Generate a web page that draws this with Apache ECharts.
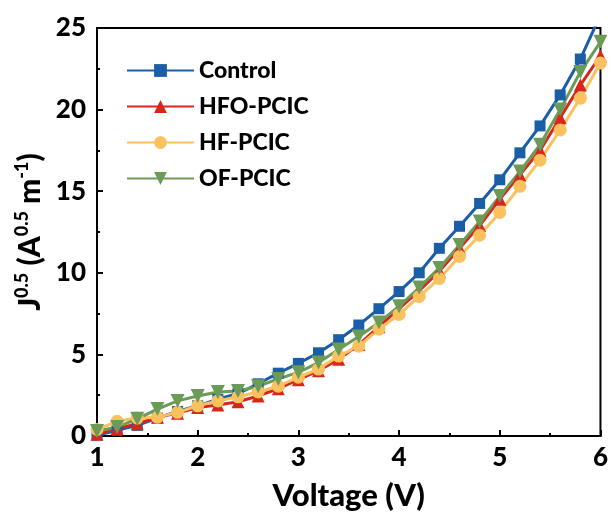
<!DOCTYPE html>
<html>
<head>
<meta charset="utf-8">
<script src="https://cdn.jsdelivr.net/npm/echarts@6/dist/echarts.min.js"></script>
<style>
  html, body { margin: 0; padding: 0; background: #fff; }
  #chart { width: 611px; height: 516px; }
</style>
</head>
<body>
<div id="chart"></div>
<script>
// voltage steps (V)
const voltage = [1.0, 1.2, 1.4, 1.6, 1.8, 2.0, 2.2, 2.4, 2.6, 2.8, 3.0, 3.2, 3.4,
                 3.6, 3.8, 4.0, 4.2, 4.4, 4.6, 4.8, 5.0, 5.2, 5.4, 5.6, 5.8, 6.0];

// J^0.5 values
const control = [0.05, 0.35, 0.65, 1.1, 1.5, 1.85, 2.25, 2.6, 3.2, 3.85, 4.45, 5.1, 5.9,
                 6.8, 7.8, 8.85, 10.0, 11.5, 12.85, 14.25, 15.7, 17.35, 19.0, 20.9, 23.1, 25.8];
const hfo = [0.1, 0.45, 0.75, 1.15, 1.4, 1.75, 1.9, 2.1, 2.45, 2.9, 3.45, 4.0, 4.7,
             5.6, 6.7, 7.8, 8.9, 10.1, 11.5, 12.9, 14.5, 16.0, 17.5, 19.5, 21.5, 23.3];
const hf = [0.4, 0.9, 1.1, 1.15, 1.45, 1.85, 2.15, 2.4, 2.7, 3.05, 3.6, 4.1, 4.9,
            5.5, 6.55, 7.45, 8.55, 9.65, 11.0, 12.3, 13.7, 15.3, 16.9, 18.75, 20.7, 22.85];
const of = [0.3, 0.55, 1.05, 1.65, 2.15, 2.45, 2.7, 2.75, 3.05, 3.5, 3.9, 4.5, 5.3,
            6.1, 6.95, 7.95, 9.1, 10.3, 11.7, 13.15, 14.7, 16.2, 17.85, 20.0, 22.3, 24.15];

const seriesNames = ['Control', 'HFO-PCIC', 'HF-PCIC', 'OF-PCIC'];
const seriesData = [control, hfo, hf, of];
const colors = ['#1a5ea8', '#d9261c', '#fbc15e', '#6b9b57'];
const symbols = ['rect', 'triangle', 'circle', 'path://M0,0 L10,0 L5,9 Z'];
const sizes = [11, 13, 13, 14];

const FONT = 'Lato';
const W = 900;

const chart = echarts.init(document.getElementById('chart'));

const series = seriesNames.map((name, i) => ({
    name: name,
    type: 'line',
    data: voltage.map((v, k) => [v, seriesData[i][k]]),
    symbol: symbols[i],
    symbolSize: sizes[i],
    lineStyle: { width: 3, color: colors[i] },
    itemStyle: { color: colors[i] },
    clip: true
}));

const option = {
    animation: false,
    backgroundColor: '#fff',
    grid: {
        left: 97, right: 7, top: 28, bottom: 78,
        show: true, borderColor: '#000', borderWidth: 2
    },
    legend: {
        orient: 'vertical',
        left: 126,
        top: 59,
        padding: 0,
        itemWidth: 67,
        itemHeight: 16,
        itemGap: 13,
        textStyle: { fontFamily: FONT, fontWeight: W, fontSize: 23, color: '#000' },
        data: seriesNames
    },
    xAxis: {
        type: 'value',
        min: 1, max: 6, interval: 1,
        name: 'Voltage (V)',
        nameLocation: 'middle',
        nameGap: 44,
        nameTextStyle: { fontFamily: FONT, fontWeight: W, fontSize: 31, color: '#000' },
        axisLine: { lineStyle: { color: '#000', width: 2 } },
        axisTick: { inside: true, length: 6, lineStyle: { width: 2 } },
        minorTick: { show: true, splitNumber: 2, length: 3, lineStyle: { color: '#000', width: 2 } },
        splitLine: { show: false },
        axisLabel: { fontFamily: FONT, fontWeight: W, fontSize: 26, color: '#000', margin: 9 }
    },
    yAxis: {
        type: 'value',
        min: 0, max: 25, interval: 5,
        name: '{b|J}{s|0.5}{b| (A}{s|0.5}{b| m}{s|-1}{b|)}',
        nameLocation: 'middle',
        nameGap: 48,
        nameRotate: 90,
        nameTextStyle: {
            rich: {
                b: { fontFamily: FONT, fontWeight: W, fontSize: 30, color: '#000', lineHeight: 34 },
                s: { fontFamily: FONT, fontWeight: W, fontSize: 18, color: '#000', lineHeight: 18, verticalAlign: 'top' }
            }
        },
        axisLine: { lineStyle: { color: '#000', width: 2 } },
        axisTick: { inside: true, length: 6, lineStyle: { width: 2 } },
        minorTick: { show: true, splitNumber: 2, length: 3, lineStyle: { color: '#000', width: 2 } },
        splitLine: { show: false },
        axisLabel: { fontFamily: FONT, fontWeight: W, fontSize: 26, color: '#000', margin: 11 }
    },
    series: series
};

chart.setOption(option);
</script>
</body>
</html>
